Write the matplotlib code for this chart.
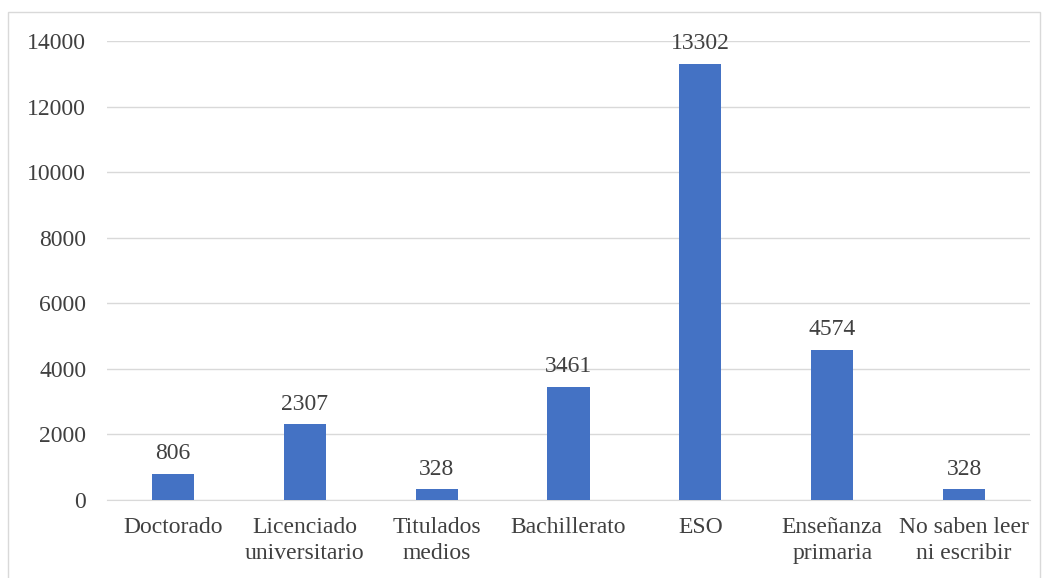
import matplotlib
matplotlib.use('Agg')
import matplotlib.pyplot as plt
from matplotlib.patches import Rectangle

categories = ['Doctorado', 'Licenciado\nuniversitario', 'Titulados\nmedios', 'Bachillerato',
              'ESO', 'Enseñanza\nprimaria', 'No saben leer\nni escribir']
values = [806, 2307, 328, 3461, 13302, 4574, 328]
yticks = [0, 2000, 4000, 6000, 8000, 10000, 12000, 14000]

plt.rcParams['font.family'] = ['Liberation Serif', 'DejaVu Serif']

fig = plt.figure(figsize=(10.46, 5.78), dpi=100)
ax = fig.add_axes([107 / 1046, 1 - 500 / 578, 923 / 1046, 459 / 578])

# outer chart border
fig.patches.append(Rectangle((8 / 1046, -0.01), 1032 / 1046, 1 - 12 / 578 + 0.01,
                             transform=fig.transFigure, fill=False,
                             edgecolor='#d9d9d9', linewidth=1))

x = range(len(categories))
bars = ax.bar(x, values, width=0.32, color='#4472C4', zorder=3)
for b, v in zip(bars, values):
    ax.annotate(str(v), (b.get_x() + b.get_width() / 2, v), xytext=(0, 7),
                textcoords='offset points', ha='center', va='bottom',
                fontsize=17, color='#404040')

ax.set_xlim(-0.5, len(categories) - 0.5)
ax.set_ylim(0, 14000)
ax.set_yticks(yticks)
ax.set_yticklabels([str(t) for t in yticks])
ax.set_xticks(list(x))
ax.set_xticklabels(categories, linespacing=1.35)
ax.tick_params(axis='both', length=0, labelsize=17, labelcolor='#404040')
ax.tick_params(axis='x', pad=12)
ax.tick_params(axis='y', pad=15)
ax.grid(axis='y', color='#d9d9d9', linewidth=1, zorder=0)
for s in ['top', 'right', 'left']:
    ax.spines[s].set_visible(False)
ax.spines['bottom'].set_color('#d9d9d9')

fig.savefig('out.png', dpi=100)
